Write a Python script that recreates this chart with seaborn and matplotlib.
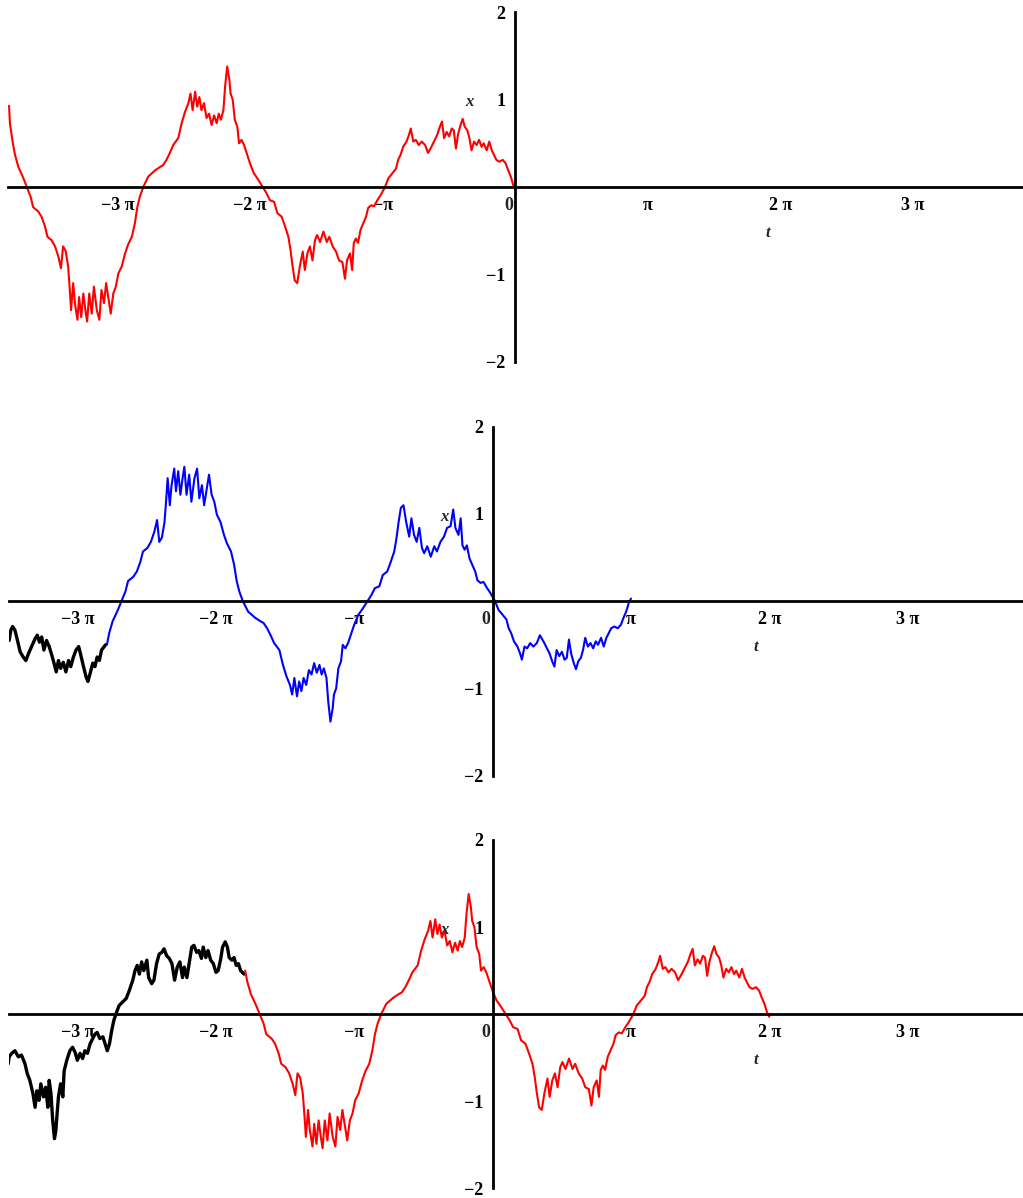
import numpy as np
import seaborn as sns
import matplotlib.pyplot as plt

# trayectoria roja (panel superior)
red_t = [-12.00, -11.98, -11.91, -11.86, -11.78, -11.66, -11.58, -11.49, -11.43, -11.31,
         -11.23, -11.15, -11.09, -10.99, -10.91, -10.83, -10.77, -10.72, -10.66, -10.60,
         -10.56, -10.53, -10.48, -10.44, -10.38, -10.34, -10.29, -10.24, -10.19, -10.15,
         -10.10, -10.04, -9.99, -9.92, -9.86, -9.81, -9.75, -9.70, -9.65, -9.59,
         -9.53, -9.47, -9.41, -9.33, -9.25, -9.18, -9.09, -9.02, -8.96, -8.90,
         -8.82, -8.70, -8.54, -8.42, -8.35, -8.27, -8.19, -8.11, -7.99, -7.91,
         -7.83, -7.75, -7.70, -7.65, -7.59, -7.54, -7.49, -7.44, -7.38, -7.32,
         -7.26, -7.20, -7.14, -7.08, -7.03, -6.98, -6.92, -6.88, -6.83, -6.78,
         -6.75, -6.70, -6.65, -6.59, -6.55, -6.49, -6.43, -6.37, -6.29, -6.20,
         -6.09, -5.99, -5.90, -5.82, -5.72, -5.64, -5.54, -5.46, -5.38, -5.33,
         -5.28, -5.23, -5.17, -5.11, -5.04, -4.99, -4.93, -4.87, -4.81, -4.75,
         -4.70, -4.63, -4.55, -4.47, -4.41, -4.33, -4.25, -4.18, -4.10, -4.04,
         -3.99, -3.92, -3.87, -3.83, -3.78, -3.73, -3.67, -3.61, -3.54, -3.49,
         -3.42, -3.35, -3.27, -3.19, -3.09, -3.01, -2.91, -2.83, -2.78, -2.72,
         -2.66, -2.58, -2.52, -2.48, -2.42, -2.36, -2.29, -2.22, -2.14, -2.07,
         -1.99, -1.91, -1.85, -1.79, -1.74, -1.69, -1.63, -1.57, -1.51, -1.46,
         -1.41, -1.36, -1.30, -1.25, -1.20, -1.14, -1.09, -1.04, -0.98, -0.92,
         -0.86, -0.80, -0.75, -0.68, -0.62, -0.56, -0.51, -0.45, -0.38, -0.30,
         -0.23, -0.17, -0.11, -0.05, 0.00]
red_x = [0.93, 0.73, 0.50, 0.37, 0.23, 0.10, 0.00, -0.11, -0.23, -0.28,
         -0.34, -0.45, -0.57, -0.61, -0.68, -0.80, -0.93, -0.68, -0.73, -0.91,
         -1.18, -1.41, -1.10, -1.33, -1.52, -1.26, -1.49, -1.22, -1.41, -1.54,
         -1.22, -1.45, -1.14, -1.41, -1.52, -1.18, -1.33, -1.10, -1.26, -1.45,
         -1.22, -1.14, -0.99, -0.91, -0.76, -0.66, -0.57, -0.42, -0.23, -0.11,
         0.00, 0.12, 0.19, 0.23, 0.25, 0.31, 0.39, 0.48, 0.56, 0.73,
         0.86, 0.96, 1.07, 0.88, 1.09, 0.92, 1.03, 0.88, 0.96, 0.79,
         0.84, 0.71, 0.82, 0.73, 0.84, 0.77, 0.88, 1.15, 1.38, 1.23,
         1.07, 1.00, 0.77, 0.69, 0.50, 0.54, 0.48, 0.39, 0.27, 0.16,
         0.08, 0.00, -0.07, -0.15, -0.17, -0.30, -0.34, -0.45, -0.57, -0.72,
         -0.91, -1.07, -1.10, -0.91, -0.74, -0.95, -0.76, -0.68, -0.84, -0.61,
         -0.55, -0.63, -0.51, -0.63, -0.57, -0.68, -0.74, -0.84, -0.86, -1.05,
         -0.84, -0.76, -0.95, -0.64, -0.59, -0.64, -0.49, -0.42, -0.34, -0.24,
         -0.21, -0.22, -0.15, -0.09, 0.00, 0.10, 0.16, 0.21, 0.31, 0.37,
         0.46, 0.52, 0.60, 0.67, 0.52, 0.54, 0.48, 0.52, 0.48, 0.39,
         0.46, 0.54, 0.60, 0.69, 0.75, 0.56, 0.63, 0.58, 0.67, 0.65,
         0.44, 0.60, 0.71, 0.78, 0.69, 0.65, 0.56, 0.42, 0.52, 0.48,
         0.54, 0.46, 0.50, 0.42, 0.52, 0.42, 0.37, 0.31, 0.29, 0.31,
         0.27, 0.19, 0.12, 0.02, -0.03]

# historia inicial (negro) del panel central
black2_t = [-10.99, -10.95, -10.91, -10.86, -10.80, -10.74, -10.67, -10.61, -10.55, -10.48,
            -10.40, -10.35, -10.30, -10.25, -10.20, -10.14, -10.08, -10.02, -9.97, -9.92,
            -9.87, -9.82, -9.76, -9.70, -9.64, -9.59, -9.53, -9.47, -9.41, -9.37,
            -9.30, -9.24, -9.20, -9.15, -9.09, -9.04, -8.99, -8.94, -8.89, -8.80]
black2_x = [-0.45, -0.33, -0.29, -0.33, -0.45, -0.58, -0.64, -0.68, -0.60, -0.52,
            -0.43, -0.39, -0.47, -0.41, -0.56, -0.45, -0.52, -0.62, -0.71, -0.81,
            -0.68, -0.77, -0.70, -0.81, -0.68, -0.75, -0.64, -0.56, -0.52, -0.60,
            -0.75, -0.87, -0.92, -0.83, -0.71, -0.75, -0.64, -0.68, -0.56, -0.50]

# historia inicial (negro) del panel inferior
black3_t = [-11.01, -10.99, -10.93, -10.86, -10.78, -10.71, -10.63, -10.58, -10.52, -10.45,
            -10.40, -10.36, -10.31, -10.27, -10.21, -10.16, -10.11, -10.08, -10.04, -10.00,
            -9.96, -9.93, -9.87, -9.82, -9.77, -9.74, -9.68, -9.61, -9.55, -9.49,
            -9.44, -9.38, -9.32, -9.27, -9.21, -9.15, -9.09, -9.04, -8.99, -8.93,
            -8.86, -8.81, -8.76, -8.71, -8.66, -8.61, -8.55, -8.49, -8.41, -8.33,
            -8.26, -8.18, -8.13, -8.08, -8.03, -7.98, -7.93, -7.86, -7.82, -7.75,
            -7.70, -7.64, -7.58, -7.52, -7.47, -7.41, -7.35, -7.29, -7.23, -7.17,
            -7.11, -7.05, -7.01, -6.95, -6.90, -6.84, -6.79, -6.73, -6.68, -6.62,
            -6.58, -6.52, -6.47, -6.41, -6.35, -6.29, -6.24, -6.18, -6.14, -6.08,
            -6.03, -5.99, -5.93, -5.88, -5.83, -5.78, -5.73, -5.65]
black3_x = [-0.57, -0.49, -0.45, -0.42, -0.49, -0.47, -0.57, -0.68, -0.76, -0.91,
            -1.07, -0.88, -0.99, -0.80, -0.95, -0.84, -1.07, -0.76, -0.91, -1.22,
            -1.43, -1.34, -0.95, -0.80, -0.95, -0.65, -0.53, -0.42, -0.38, -0.44,
            -0.53, -0.45, -0.51, -0.42, -0.45, -0.34, -0.28, -0.23, -0.21, -0.28,
            -0.26, -0.34, -0.42, -0.34, -0.19, -0.07, 0.02, 0.10, 0.14, 0.18,
            0.27, 0.39, 0.50, 0.56, 0.46, 0.60, 0.50, 0.62, 0.42, 0.35,
            0.39, 0.58, 0.69, 0.71, 0.75, 0.67, 0.64, 0.58, 0.39, 0.54,
            0.60, 0.42, 0.54, 0.42, 0.58, 0.77, 0.79, 0.71, 0.73, 0.64,
            0.77, 0.65, 0.73, 0.62, 0.58, 0.48, 0.50, 0.64, 0.77, 0.83,
            0.77, 0.65, 0.62, 0.65, 0.56, 0.58, 0.50, 0.46]

# el panel central es -x(t - pi), el inferior x(t - 2 pi)
shift_mid = np.pi
shift_low = 2 * np.pi
start_t = -11.93

xtick_vals = [-3 * np.pi, -2 * np.pi, -np.pi, np.pi, 2 * np.pi, 3 * np.pi]
xtick_labels = ["−3 π", "−2 π", "−π", "π", "2 π", "3 π"]
ytick_vals = [-2, -1, 1, 2]
ytick_labels = ["−2", "−1", "1", "2"]

sns.set_theme(style="white")
plt.rcParams["font.family"] = ["Liberation Serif", "DejaVu Serif"]

fig = plt.figure(figsize=(10.23, 11.98), dpi=100)
W, H = 1023, 1198


def make_axes(left, right, top, bottom, xlim):
    ax = fig.add_axes([left / W, (H - bottom) / H, (right - left) / W, (bottom - top) / H])
    ax.set_xlim(*xlim)
    ax.set_ylim(-2, 2)
    ax.patch.set_alpha(0)
    for s in ["top", "right"]:
        ax.spines[s].set_visible(False)
    for s in ["left", "bottom"]:
        ax.spines[s].set_position(("data", 0))
        ax.spines[s].set_linewidth(2.0)
        ax.spines[s].set_color("black")
    ax.set_xticks(xtick_vals)
    ax.set_xticklabels(xtick_labels, fontsize=13, fontweight="bold")
    ax.set_yticks(ytick_vals)
    ax.set_yticklabels(ytick_labels, fontsize=13, fontweight="bold")
    ax.set_yticks([-1.5, -0.5, 0.5, 1.5], minor=True)
    ax.tick_params(axis="both", which="major", direction="out", length=4, width=1.2,
                   pad=3, colors="black")
    ax.tick_params(axis="y", which="minor", direction="out", length=2.5, width=1.0)
    ax.set_xlabel("")
    ax.set_ylabel("")
    ax.annotate("0", xy=(0, 0), xytext=(-5, -7), textcoords="offset points",
                ha="center", va="top", fontsize=13, fontweight="bold")
    ax.text(-1.1, 0.97, "x", fontsize=12, style="italic", fontweight="bold",
            ha="center", va="center")
    ax.text(5.98, -0.53, "t", fontsize=12, style="italic", fontweight="bold",
            ha="center", va="center")
    return ax


ax1 = make_axes(7.8, 1023, 12.3, 361.7, (-12.03, 12.03))
ax2 = make_axes(8.7, 1023, 426.7, 775.7, (-11.0, 12.05))
ax3 = make_axes(8.7, 1023, 840.0, 1188.3, (-11.0, 12.05))

red_t_arr = np.array(red_t)
red_x_arr = np.array(red_x)
keep = red_t_arr >= start_t

# panel superior
sns.lineplot(x=red_t_arr, y=red_x_arr, ax=ax1, color="#ff0000", linewidth=1.5,
             estimator=None, sort=False)

# panel central
sns.lineplot(x=black2_t, y=black2_x, ax=ax2, color="black", linewidth=2.4,
             estimator=None, sort=False)
sns.lineplot(x=red_t_arr[keep] + shift_mid, y=-red_x_arr[keep], ax=ax2, color="#0000ff",
             linewidth=1.5, estimator=None, sort=False)

# panel inferior
sns.lineplot(x=black3_t, y=black3_x, ax=ax3, color="black", linewidth=2.4,
             estimator=None, sort=False)
sns.lineplot(x=red_t_arr[keep] + shift_low, y=red_x_arr[keep], ax=ax3, color="#ff0000",
             linewidth=1.5, estimator=None, sort=False)

for ax in (ax1, ax2, ax3):
    ax.set_xlabel("")
    ax.set_ylabel("")

fig.savefig("out.png", dpi=100, facecolor="white")
